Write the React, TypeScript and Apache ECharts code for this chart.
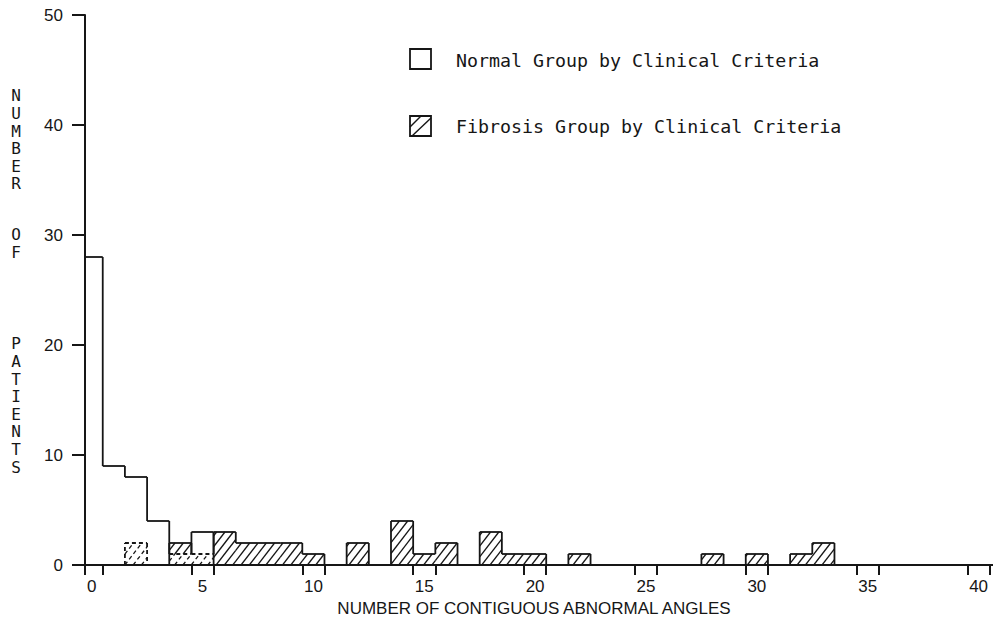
import React, { useEffect, useRef } from "react";
import * as echarts from "echarts";

// Patient counts per number of contiguous abnormal angles
const normalBins = [0, 1, 2, 3, 4, 5];
const normalCounts = [28, 9, 8, 4, 1, 3];

const fibrosisBins = [2, 4, 5, 6, 7, 8, 9, 10, 12, 14, 15, 16, 18, 19, 20, 22, 28, 30, 32, 33];
const fibrosisCounts = [2, 2, 1, 3, 2, 2, 2, 1, 2, 4, 1, 2, 3, 1, 1, 1, 1, 1, 1, 2];

const xLabelValues = [0, 5, 10, 15, 20, 25, 30, 35, 40];
const xTickValues = [-0.3, 0.5, 4.5, 5.5, 9.5, 10.5, 14.5, 15.5, 19.5, 20.5, 24.5, 25.5, 29.5, 30.5, 34.5, 35.5, 39.5, 40.5];

const legendNormal = "Normal Group by Clinical Criteria";
const legendFibrosis = "Fibrosis Group by Clinical Criteria";
const xTitle = "NUMBER OF CONTIGUOUS ABNORMAL ANGLES";
const yTitleWords = ["NUMBER", "OF", "PATIENTS"];

const INK = "#161616";
const MONO = "'DejaVu Sans Mono', 'Liberation Mono', monospace";
const SANS = "'Liberation Sans', Arial, sans-serif";

const normalAt = (b: number) => {
  const i = normalBins.indexOf(b);
  return i >= 0 ? normalCounts[i] : 0;
};
const fibrosisAt = (b: number) => {
  const i = fibrosisBins.indexOf(b);
  return i >= 0 ? fibrosisCounts[i] : 0;
};

const seg = (x1: number, y1: number, x2: number, y2: number, dashed: boolean, width = 1.8) => ({
  type: "line",
  shape: { x1, y1, x2, y2 },
  style: { stroke: INK, lineWidth: width, lineDash: dashed ? [4, 3] : null, fill: null },
});

// Diagonal "/" hatching clipped to a pixel rectangle, aligned to a shared origin
const HATCH_SPACING = 8.3;
const HATCH_SLOPE = 1.3;
function hatch(xo: number, y0: number, xl: number, xr: number, yt: number, yb: number, dashed: boolean) {
  const out: any[] = [];
  const tMin = y0 - yb;
  const tMax = y0 - yt;
  if (tMax - tMin < 0.5) return out;
  const jStart = Math.floor((xl - tMax / HATCH_SLOPE - xo) / HATCH_SPACING) - 1;
  const jEnd = Math.ceil((xr - xo) / HATCH_SPACING) + 1;
  for (let j = jStart; j <= jEnd; j++) {
    const c = xo + j * HATCH_SPACING;
    const t1 = Math.max(tMin, HATCH_SLOPE * (xl - c));
    const t2 = Math.min(tMax, HATCH_SLOPE * (xr - c));
    if (t2 - t1 > 0.8) {
      out.push(seg(c + t1 / HATCH_SLOPE, y0 - t1, c + t2 / HATCH_SLOPE, y0 - t2, dashed, 1.3));
    }
  }
  return out;
}

export default function App() {
  const ref = useRef<HTMLDivElement>(null);

  useEffect(() => {
    if (!ref.current) return;
    const chart = echarts.init(ref.current, null, { renderer: "svg" });

    const renderNormal = (params: any, api: any) => {
      const b = api.value(0);
      const n = api.value(1);
      const f = fibrosisAt(b);
      const nNext = normalAt(b + 1);
      const pL = api.coord([b - 0.5, n]);
      const pR = api.coord([b + 0.5, n]);
      const pNext = api.coord([b + 0.5, nNext]);
      return {
        type: "group",
        children: [
          seg(pL[0], pL[1], pR[0], pR[1], f > n),
          seg(pR[0], pR[1], pNext[0], pNext[1], false),
        ],
      };
    };

    const renderFibrosis = (params: any, api: any) => {
      const b = api.value(0);
      const f = api.value(1);
      const n = normalAt(b);
      const o = Math.min(f, n);
      const fPrev = fibrosisAt(b - 1);
      const fNext = fibrosisAt(b + 1);
      const origin = api.coord([0, 0]);
      const xl = api.coord([b - 0.5, 0])[0];
      const xr = api.coord([b + 0.5, 0])[0];
      const y0 = origin[1];
      const yo = api.coord([b, o])[1];
      const yf = api.coord([b, f])[1];
      const yNext = api.coord([b, fNext])[1];
      const children: any[] = [];
      children.push(...hatch(origin[0], y0, xl, xr, yo, y0, true));
      children.push(...hatch(origin[0], y0, xl, xr, yf, yo, false));
      children.push(seg(xl, yf, xr, yf, f <= n));
      const rightInside = Math.max(f, fNext) <= Math.min(n, normalAt(b + 1));
      children.push(seg(xr, yf, xr, yNext, rightInside));
      if (fPrev === 0) {
        const leftInside = f <= Math.min(n, normalAt(b - 1));
        children.push(seg(xl, y0, xl, yf, leftInside));
      }
      return { type: "group", children };
    };

    const yTitleTops = [87, 226, 335];
    const graphic: any[] = [
      {
        type: "rect",
        shape: { x: 410, y: 49, width: 21, height: 20 },
        style: { fill: "#fff", stroke: INK, lineWidth: 1.8 },
      },
      {
        type: "text",
        x: 456,
        y: 60,
        style: { text: legendNormal, font: `18.3px ${MONO}`, fill: INK, verticalAlign: "middle" },
      },
      {
        type: "rect",
        shape: { x: 410, y: 116, width: 21, height: 20 },
        style: { fill: "#fff", stroke: INK, lineWidth: 1.8 },
      },
      { type: "line", shape: { x1: 410, y1: 127, x2: 421, y2: 116 }, style: { stroke: INK, lineWidth: 1.4 } },
      { type: "line", shape: { x1: 412, y1: 136, x2: 431, y2: 118 }, style: { stroke: INK, lineWidth: 1.4 } },
      {
        type: "text",
        x: 456,
        y: 126,
        style: { text: legendFibrosis, font: `18.3px ${MONO}`, fill: INK, verticalAlign: "middle" },
      },
      {
        type: "text",
        x: 534,
        y: 608,
        style: { text: xTitle, font: `17px ${SANS}`, fill: INK, align: "center", verticalAlign: "middle" },
      },
      ...yTitleWords.map((w, i) => ({
        type: "text",
        x: 16,
        y: yTitleTops[i],
        style: {
          text: w.split("").join("\n"),
          font: `16px ${MONO}`,
          lineHeight: 17.6,
          fill: INK,
          align: "center",
          verticalAlign: "top",
        },
      })),
    ];

    chart.setOption({
      animation: false,
      backgroundColor: "#ffffff",
      grid: { left: 85, top: 15, width: 908, height: 550 },
      xAxis: {
        type: "value",
        min: -0.3,
        max: 40.65,
        axisLine: { show: true, onZero: false, lineStyle: { color: INK, width: 2 } },
        axisTick: { show: true, length: 10, customValues: xTickValues, lineStyle: { color: INK, width: 2 } },
        axisLabel: { customValues: xLabelValues, fontSize: 17, fontFamily: SANS, color: INK, margin: 13 },
        splitLine: { show: false },
      },
      yAxis: {
        type: "value",
        min: 0,
        max: 50,
        interval: 10,
        axisLine: { show: true, onZero: false, lineStyle: { color: INK, width: 2 } },
        axisTick: { show: true, length: 13, lineStyle: { color: INK, width: 2 } },
        axisLabel: { fontSize: 17, fontFamily: SANS, color: INK, margin: 22 },
        splitLine: { show: false },
      },
      series: [
        {
          type: "custom",
          name: "Normal Group by Clinical Criteria",
          clip: true,
          encode: { x: 0, y: 1 },
          data: normalBins.map((b, i) => [b, normalCounts[i]]),
          renderItem: renderNormal,
          z: 3,
        },
        {
          type: "custom",
          name: "Fibrosis Group by Clinical Criteria",
          clip: true,
          encode: { x: 0, y: 1 },
          data: fibrosisBins.map((b, i) => [b, fibrosisCounts[i]]),
          renderItem: renderFibrosis,
          z: 2,
        },
      ],
      graphic,
    });

    return () => chart.dispose();
  }, []);

  return (
    <div
      ref={ref}
      style={{ position: "fixed", left: 0, top: 0, width: 993, height: 635, background: "#fff" }}
    />
  );
}
